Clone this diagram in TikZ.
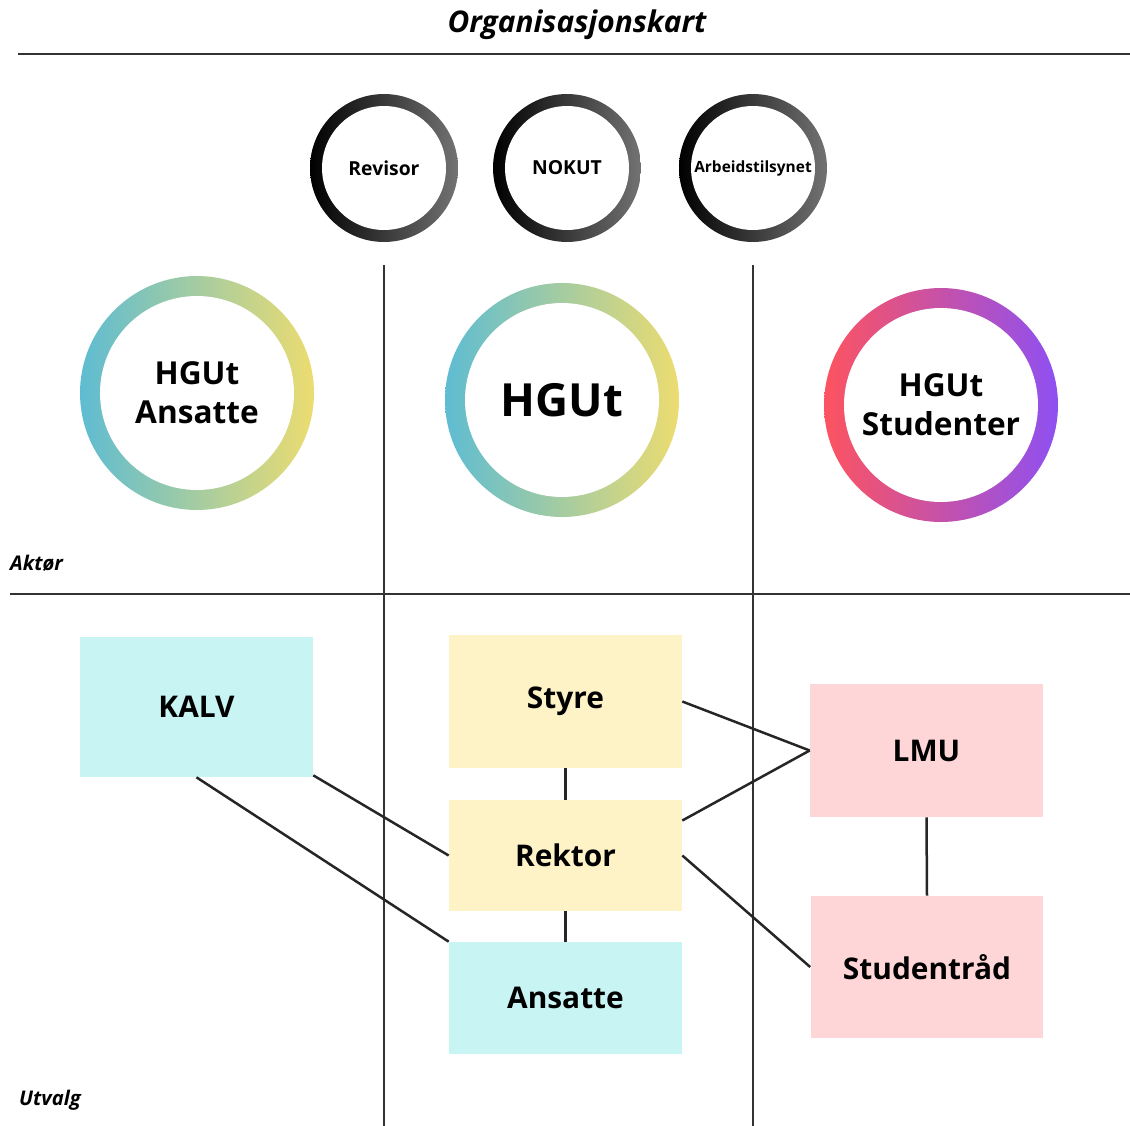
\documentclass[tikz,border=0pt]{standalone}
\usepackage{fontspec}
\setmainfont{Open Sans}
\usetikzlibrary{positioning}

\definecolor{kalvcyan}{HTML}{C8F4F4}
\definecolor{styreyellow}{HTML}{FEF2C7}
\definecolor{lmupink}{HTML}{FED6D7}
\definecolor{hgblue}{HTML}{5EBCD2}
\definecolor{hgmid}{HTML}{A6D3A6}
\definecolor{hgyellow}{HTML}{ECDC70}
\definecolor{stred}{HTML}{FD5360}
\definecolor{stmid}{HTML}{C84FB0}
\definecolor{stpurple}{HTML}{8E50F2}
\definecolor{divider}{HTML}{333333}

\begin{document}
\begin{tikzpicture}[x=0.02cm, y=-0.02cm,
    orgbox/.style ={rectangle, minimum width=4.66cm, font=\fontsize{17}{20}\selectfont\bfseries},
    smallring/.style ={circle, minimum size=2.96cm, left color=black, right color=gray!110!white,
      path picture={\fill[white] (path picture bounding box.center) circle (1.24cm);},
      font=\fontsize{11}{13}\selectfont\bfseries},
    bigring/.style ={circle, minimum size=4.68cm, align=center,
      path picture={\fill[white] (path picture bounding box.center) circle (1.94cm);},
      font=\fontsize{18}{22}\selectfont\bfseries},
    sidelabel/.style ={anchor=west, font=\fontsize{11.5}{13}\selectfont\bfseries\itshape},
    link/.style ={line width=0.05cm, black!85},
    divline/.style ={line width=0.03cm, divider}]
   \useasboundingbox (0,0) rectangle (1130,1126);

   % overskrift og skillelinjer
   \node[font=\fontsize{17}{20}\selectfont\bfseries\itshape] (title) at (577,25) {Organisasjonskart};
   \draw[divline] (18,54) -- (1130,54);
   \draw[divline] (10,594) -- (1130,594);
   \draw[divline] (384,265) -- (384,1126);
   \draw[divline] (753,265) -- (753,1126);
   \node[sidelabel] (aktor) at (4,563) {Aktør};
   \node[sidelabel] (utvalg) at (13,1100) {Utvalg};

   % aktører
   \node[smallring] (revisor) at (384,168) {Revisor};
   \node[smallring] (nokut) at (567,168) {NOKUT};
   \node[smallring, font=\fontsize{8.8}{11}\selectfont\bfseries] (arbeid) at (753,168) {Arbeidstilsynet};

   \node[bigring, left color=hgblue, middle color=hgmid, right color=hgyellow] (hgansatte) at (197,393) {HGUt\\Ansatte};
   \node[bigring, left color=hgblue, middle color=hgmid, right color=hgyellow,
     font=\fontsize{26}{30}\selectfont\bfseries] (hgut) at (562,400) {HGUt};
   \node[bigring, left color=stred, middle color=stmid, right color=stpurple] (hgstudenter) at (941,405) {HGUt\\Studenter};

   % utvalg
   \node[orgbox, fill=kalvcyan, minimum height=2.8cm] (kalv) at (196.5,707) {KALV};
   \node[orgbox, fill=styreyellow, minimum height=2.66cm] (styre) at (565.5,701.5) {Styre};
   \node[orgbox, fill=styreyellow, minimum height=2.22cm] (rektor) at (565.5,855.5) {Rektor};
   \node[orgbox, fill=kalvcyan, minimum height=2.24cm] (ansatte) at (565.5,998) {Ansatte};
   \node[orgbox, fill=lmupink, minimum height=2.66cm] (lmu) at (926.5,750.5) {LMU};
   \node[orgbox, fill=lmupink, minimum height=2.84cm] (studentrad) at (927,967) {Studentråd};

   \draw[link] (styre.east) to (lmu.west);
   \draw[link] ([yshift=0.7cm]rektor.east) to (lmu.west);
   \draw[link] (rektor.east) to (studentrad.west);
   \draw[link] (styre.south) to (rektor.north);
   \draw[link] (rektor.south) to (ansatte.north);
   \draw[link] ([yshift=0.04cm]kalv.south east) to (rektor.west);
   \draw[link] (kalv.south) to (ansatte.north west);
   \draw[link] (lmu.south) to (studentrad.north);
 \end{tikzpicture}
\end{document}
